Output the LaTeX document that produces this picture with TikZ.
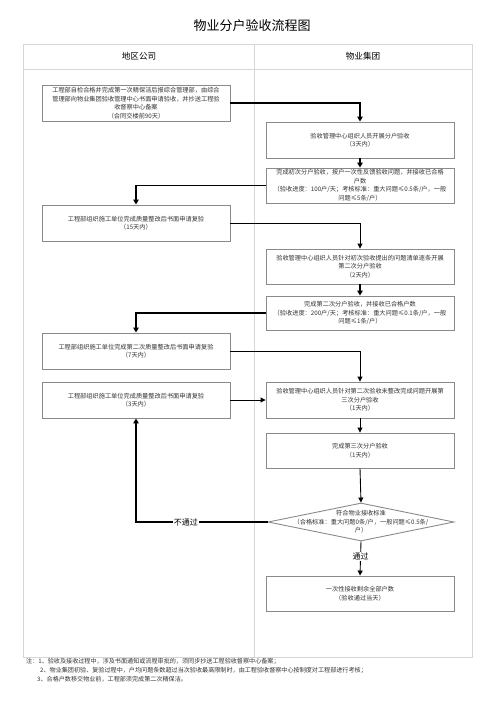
\documentclass[tikz,border=0pt]{standalone}
\usepackage{fontspec}
\setmainfont{Noto Sans CJK SC}
\usetikzlibrary{arrows.meta,shapes.geometric}
\definecolor{boxline}{HTML}{8A8A8A}
\definecolor{gridline}{HTML}{D6D6D6}
\definecolor{txt}{HTML}{333333}
\tikzset{
  box/.style={draw=boxline,line width=0.9pt,fill=white,minimum width=188pt,minimum height=36pt,inner sep=1pt,align=center,text=txt,font=\fontsize{6.2}{8.6}\selectfont},
  dia/.style={draw=boxline,line width=0.9pt,fill=white,diamond,minimum width=186pt,minimum height=38pt,inner sep=0pt},
  dtext/.style={align=center,text=txt,font=\fontsize{6.2}{8.6}\selectfont,inner sep=0pt},
  flow/.style={line width=0.9pt,-{Triangle[length=5pt,width=5pt]}},
  bflow/.style={line width=1.6pt,-{Triangle[length=5pt,width=5.5pt]}},
  lbl/.style={fill=white,inner sep=1pt,font=\fontsize{8}{9}\selectfont},
  note/.style={anchor=west,inner sep=0pt,text=txt,font=\fontsize{6.1}{7}\selectfont}
}
\begin{document}
\begin{tikzpicture}[x=1pt,y=-1pt]
\useasboundingbox (0,0) rectangle (496,702);
\node[font=\fontsize{13}{15}\selectfont] (title) at (252,26) {物业分户验收流程图};
% table
\draw[gridline,line width=0.8pt] (23,44) rectangle (472,657);
\draw[gridline,line width=0.8pt] (23,69) -- (472,69);
\draw[gridline,line width=0.8pt] (254,44) -- (254,657);
\node[font=\fontsize{8.6}{10}\selectfont] (h1) at (139,56.5) {地区公司};
\node[font=\fontsize{8.6}{10}\selectfont] (h2) at (363,56.5) {物业集团};
% boxes
\node[box] (A1) at (136,103) {工程部自检合格并完成第一次精保洁后报综合管理部，由综合\\管理部向物业集团验收管理中心书面申请验收，并抄送工程验\\收督察中心备案\\（合同交楼前90天）};
\node[box] (B1) at (360,140) {验收管理中心组织人员开展分户验收\\（3天内）};
\node[box,minimum height=35pt] (B2) at (360,185.5) {完成初次分户验收，按户一次性反馈验收问题，并接收已合格\\户数\\（验收进度：100户/天；考核标准：重大问题≤0.5条/户，一般\\问题≤5条/户）};
\node[box] (A2) at (136,223) {工程部组织施工单位完成质量整改后书面申请复验\\（15天内）};
\node[box,minimum height=35pt] (B3) at (360,266.5) {验收管理中心组织人员针对初次验收提出的问题清单逐条开展\\第二次分户验收\\（2天内）};
\node[box,minimum height=34pt] (B4) at (360,313) {完成第二次分户验收，并接收已合格户数\\（验收进度：200户/天；考核标准：重大问题≤0.1条/户，一般\\问题≤1条/户）};
\node[box] (A3) at (136,351) {工程部组织施工单位完成第二次质量整改后书面申请复验\\（7天内）};
\node[box] (B5) at (360,400) {验收管理中心组织人员针对第二次验收未整改完成问题开展第\\三次分户验收\\（1天内）};
\node[box] (A4) at (136,400) {工程部组织施工单位完成质量整改后书面申请复验\\（3天内）};
\node[box,minimum height=35pt] (B6) at (360,450.5) {完成第三次分户验收\\（1天内）};
\node[dia] (D) at (361,522) {};
\node[dtext] (Dt) at (D.center) {符合物业接收标准\\（合格标准：重大问题0条/户，一般问题≤0.5条/\\户）};
\node[box,minimum height=35pt] (B7) at (360,593.5) {一次性接收剩余全部户数\\（验收通过当天）};
% connectors
\draw[bflow] (A1.east) -| (B1.north);
\draw[bflow] (B1.south) -- (B2.north);
\draw[bflow] (B2.west) -| (A2.north);
\draw[flow] (A2.east) -| (B3.north);
\draw[bflow] (B3.south) -- (B4.north);
\draw[bflow] (B4.west) -| (A3.north);
\draw[flow] (A3.east) -| (B5.north);
\draw[flow] (A4.east) -- (B5.west);
\draw[flow] (B5.south) -- (B6.north);
\draw[flow] (B6.south) -- (D.north);
\draw[bflow] (D.west) -| node[lbl,pos=0.31] {不通过} (A4.south);
\draw[flow] (D.south) -- node[lbl,pos=0.45] {通过} (B7.north);
% notes
\node[note] (n1) at (26,661) {注：1、验收及接收过程中，涉及书面通知或流程审批的，须同步抄送工程验收督察中心备案；};
\node[note] (n2) at (40,670) {2、物业集团初验、复验过程中，户均问题条数超过当次验收最高限制时，由工程验收督察中心按制度对工程部进行考核；};
\node[note] (n3) at (37,679) {3、合格户数移交物业前，工程部须完成第二次精保洁。};
\end{tikzpicture}
\end{document}
